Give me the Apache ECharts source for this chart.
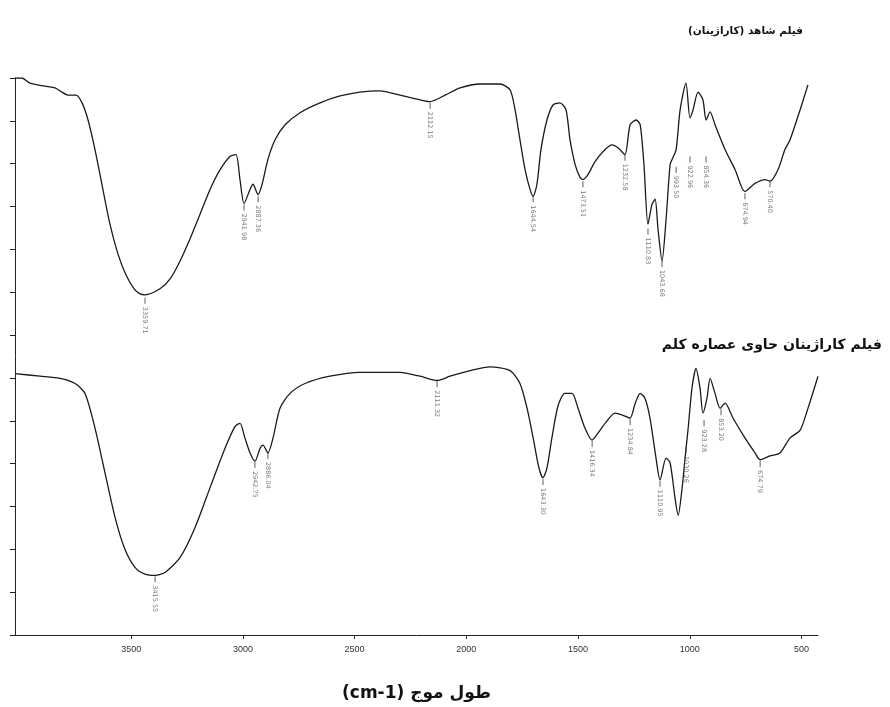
<!DOCTYPE html>
<html>
<head>
<meta charset="utf-8">
<script src="https://cdn.jsdelivr.net/npm/echarts@6/dist/echarts.min.js"></script>
<style>
html,body{margin:0;padding:0;background:#fff;}
#chart{width:890px;height:707px;}
</style>
</head>
<body>
<div id="chart"></div>
<script>
// ---- Data (wavenumber cm-1, transmittance in axis-tick units) ----
var topWn = [4020,3989,3953,3886,3841,3810,3783,3747,3720,3693,3662,3631,3595,3559,3523,3487,3460,3438,3371,3326,3281,3237,3192,3147,3102,3058,3031,3013,2995,2968,2955,2932,2914,2888,2856,2811,2744,2655,2565,2476,2386,2297,2207,2162,2095,2028,1939,1849,1804,1782,1760,1737,1715,1701,1684,1666,1639,1612,1581,1554,1536,1513,1491,1478,1455,1424,1379,1348,1321,1290,1267,1240,1222,1205,1187,1169,1155,1142,1124,1106,1088,1079,1061,1043,1017,999,985,963,941,927,909,887,842,797,753,708,663,641,605,574,551,506,471];
var topT  = [13.00,13.00,12.88,12.81,12.77,12.67,12.60,12.60,12.42,12.02,11.33,10.52,9.59,8.89,8.40,8.08,7.96,7.94,8.08,8.31,8.73,9.24,9.82,10.40,10.86,11.17,11.21,10.63,10.07,10.40,10.52,10.28,10.52,11.10,11.56,11.91,12.19,12.42,12.58,12.67,12.70,12.60,12.49,12.45,12.60,12.77,12.86,12.86,12.72,12.26,11.56,10.86,10.40,10.24,10.52,11.33,12.02,12.37,12.42,12.26,11.56,10.98,10.68,10.63,10.75,11.05,11.33,11.44,11.37,11.21,11.91,12.02,11.91,10.98,9.59,10.05,10.17,9.47,8.73,9.70,10.98,11.10,11.33,12.26,12.88,12.07,12.26,12.67,12.49,12.02,12.21,11.91,11.33,10.86,10.35,10.54,10.63,10.59,10.86,11.33,11.56,12.26,12.84];

var botWn = [4020,3908,3819,3751,3707,3662,3617,3572,3528,3483,3438,3393,3349,3281,3214,3147,3080,3035,3013,2991,2968,2946,2923,2910,2888,2865,2834,2789,2722,2610,2476,2297,2207,2131,2073,1983,1894,1804,1760,1728,1701,1675,1657,1639,1617,1590,1559,1527,1500,1469,1437,1411,1379,1334,1290,1267,1244,1222,1200,1178,1151,1133,1106,1088,1066,1052,1034,1021,1007,990,972,954,941,923,909,887,864,842,806,753,708,685,641,596,551,506,471,426];
var botT  = [6.10,6.04,5.99,5.87,5.64,4.83,3.78,2.74,2.00,1.58,1.42,1.39,1.46,1.81,2.51,3.44,4.36,4.87,4.94,4.60,4.25,4.06,4.36,4.43,4.25,4.60,5.29,5.64,5.87,6.04,6.13,6.13,6.04,5.94,6.04,6.17,6.26,6.17,5.87,5.29,4.60,3.90,3.67,3.90,4.60,5.34,5.64,5.64,5.29,4.83,4.55,4.71,4.94,5.18,5.11,5.06,5.41,5.64,5.52,5.06,4.13,3.62,4.13,4.02,3.20,2.79,3.44,4.13,4.83,5.76,6.22,5.76,5.18,5.52,5.99,5.64,5.29,5.41,5.06,4.60,4.25,4.09,4.18,4.25,4.60,4.78,5.29,6.04];

// Peak annotations
var topPeakWn   = [3438,2995,2932,2162,1701,1478,1290,1187,1124,1061,999,927,753,641];
var topPeakY    = [7.80,9.98,10.17,12.35,10.17,10.52,11.14,9.42,8.66,10.86,11.10,11.10,10.24,10.52];
var topPeakText = ["3359.71","2941.98","2887.36","2112.15","1644.54","1473.51","1232.58","1110.83","1043.68","993.50","922.96","854.36","674.94","570.40"];

var botPeakWn   = [3393,2946,2888,2131,1657,1437,1267,1133,1017,936,860,685];
var botPeakY    = [1.30,3.97,4.18,5.85,3.57,4.46,4.97,3.53,4.32,4.94,5.20,3.99];
var botPeakText = ["3415.55","2942.75","2886.04","2111.32","1643.30","1416.34","1234.84","1110.95","1030.26","923.28","853.20","674.79"];

var xTicks = [500,1000,1500,2000,2500,3000,3500];

var titleTop = "فیلم شاهد (کاراژینان)\u200F";
var titleBot = "فیلم کاراژینان حاوی عصاره کلم";
var xName = "(cm-1) طول موج";

function pairs(a, b) { return a.map(function (v, i) { return [v, b[i]]; }); }
function peaks(w, y, t) { return w.map(function (v, i) { return [v, y[i], t[i]]; }); }

var peakStyle = {
  type: 'scatter',
  symbol: 'rect',
  symbolSize: [1, 6],
  itemStyle: { color: '#333' },
  label: {
    show: true,
    position: 'bottom',
    distance: 3,
    rotate: -90,
    align: 'left',
    verticalAlign: 'middle',
    fontSize: 6.5,
    color: '#555',
    fontFamily: 'DejaVu Sans',
    formatter: function (p) { return p.data[2]; }
  },
  silent: true,
  z: 3
};

var chart = echarts.init(document.getElementById('chart'));
chart.setOption({
  animation: false,
  backgroundColor: '#fff',
  title: [
    { text: titleTop, right: 82, top: 21, textStyle: { fontFamily: 'DejaVu Sans', fontWeight: 'bold', fontSize: 10.5, color: '#111' } },
    { text: titleBot, right: 3, top: 333, textStyle: { fontFamily: 'DejaVu Sans', fontWeight: 'bold', fontSize: 14, color: '#111' } }
  ],
  grid: { left: 15, right: 72, top: 78, bottom: 69, containLabel: false },
  xAxis: {
    type: 'value',
    inverse: true,
    min: 426,
    max: 4020,
    name: xName,
    nameLocation: 'middle',
    nameGap: 50,
    nameTextStyle: { fontFamily: 'DejaVu Sans', fontWeight: 'bold', fontSize: 17, color: '#111' },
    axisLine: { show: true, lineStyle: { color: '#222', width: 1 } },
    axisTick: { show: true, length: 4, customValues: xTicks, lineStyle: { color: '#222' } },
    axisLabel: {
      customValues: xTicks, fontSize: 9, color: '#333', margin: 10,
      fontFamily: 'Liberation Sans Narrow, Liberation Sans',
      formatter: function (v) { return String(v); }
    },
    splitLine: { show: false }
  },
  yAxis: {
    type: 'value',
    min: 0,
    max: 13,
    interval: 1,
    axisLine: { show: true, lineStyle: { color: '#222', width: 1 } },
    axisTick: { show: true, length: 5, lineStyle: { color: '#222' } },
    axisLabel: { show: false },
    splitLine: { show: false }
  },
  series: [
    { type: 'line', data: pairs(topWn, topT), showSymbol: false, smooth: 0.25, lineStyle: { color: '#1a1a1a', width: 1.3 }, z: 2 },
    { type: 'line', data: pairs(botWn, botT), showSymbol: false, smooth: 0.25, lineStyle: { color: '#1a1a1a', width: 1.3 }, z: 2 },
    Object.assign({}, peakStyle, { data: peaks(topPeakWn, topPeakY, topPeakText) }),
    Object.assign({}, peakStyle, { data: peaks(botPeakWn, botPeakY, botPeakText) })
  ]
});
</script>
</body>
</html>
